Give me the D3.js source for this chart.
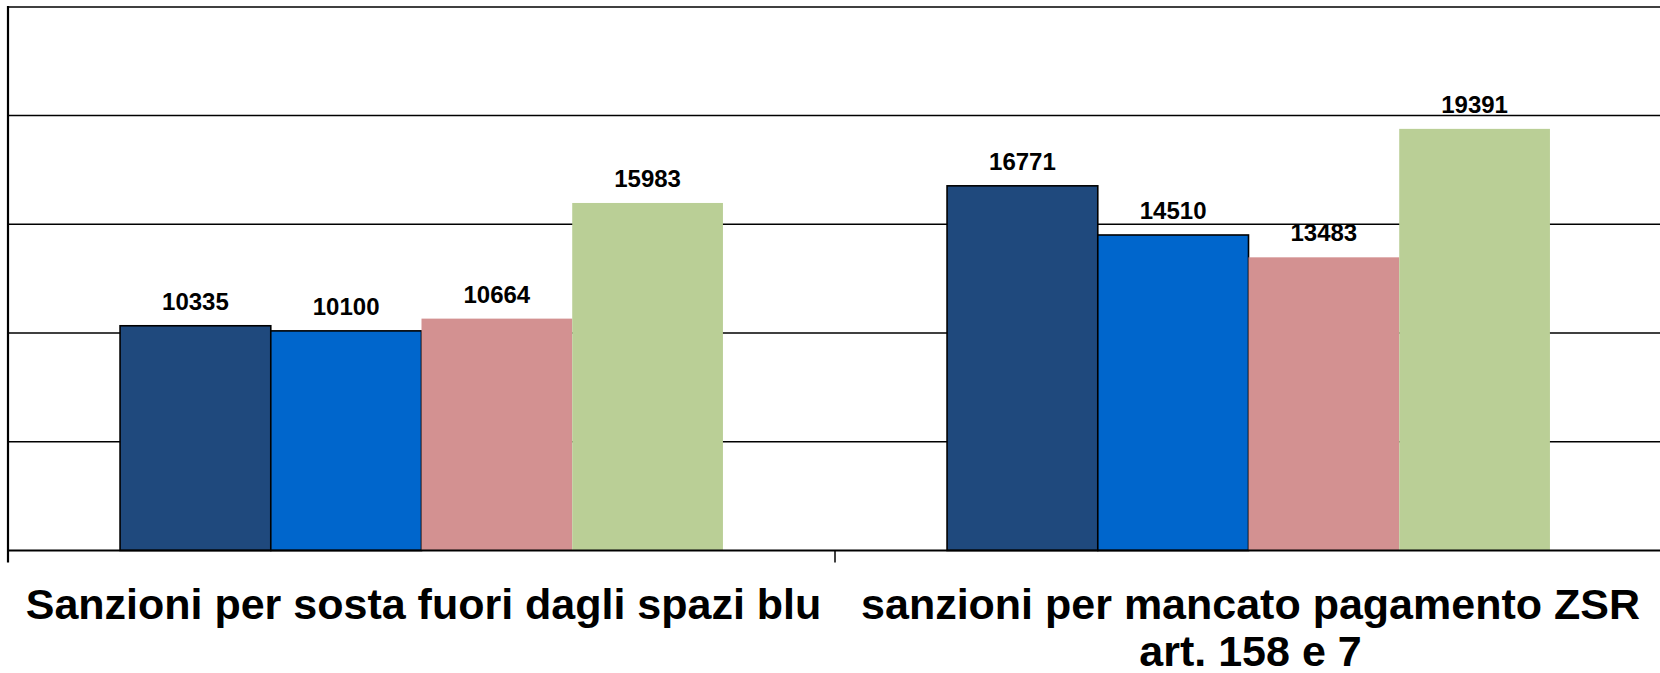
<!DOCTYPE html>
<html>
<head>
<meta charset="utf-8">
<script src="https://cdn.jsdelivr.net/npm/d3@7"></script>
<style>
  html, body { margin: 0; padding: 0; background: #fff; }
  svg { display: block; }
  text { font-family: "Liberation Sans", Arial, sans-serif; font-weight: bold; fill: #000; }
</style>
</head>
<body>
<svg id="chart" width="1660" height="673"></svg>
<script>
// ---- data ----
const categories = ["Sanzioni per sosta fuori dagli spazi blu", "sanzioni per mancato pagamento ZSR art. 158 e 7"];
const categoryLines = [["Sanzioni per sosta fuori dagli spazi blu"], ["sanzioni per mancato pagamento ZSR", "art. 158 e 7"]];
const seriesNames = ["Serie 1", "Serie 2", "Serie 3", "Serie 4"];
const serie1 = [10335, 16771];
const serie2 = [10100, 14510];
const serie3 = [10664, 13483];
const serie4 = [15983, 19391];
const yTicks = [0, 5000, 10000, 15000, 20000, 25000];
const seriesColors = ["#1F497D", "#0066CC", "#D39191", "#BACF96"];
const seriesStroke = ["#000", "#000", "none", "none"];

const allSeries = [serie1, serie2, serie3, serie4];

(function () {
  // ---- layout ----
  const pLeft = 8, pRight = 1662, pTop = 6.9, pBottom = 550.5;
  const svg = d3.select("#chart");

  const x0 = d3.scaleBand().domain(categories).range([pLeft, pRight]).paddingInner(0).paddingOuter(0);
  const groupFrac = 0.729;
  const x1 = d3.scaleBand().domain(seriesNames).range([0, x0.bandwidth() * groupFrac]).padding(0);
  const y = d3.scaleLinear().domain([0, 25000]).range([pBottom, pTop]);

  // gridlines
  svg.append("g").selectAll("line")
    .data(yTicks.filter(d => d > 0))
    .join("line")
    .attr("x1", pLeft).attr("x2", 1660)
    .attr("y1", d => y(d)).attr("y2", d => y(d))
    .attr("stroke", "#000").attr("stroke-width", 1.5);

  // bars
  const groups = svg.append("g").selectAll("g")
    .data(categories)
    .join("g")
    .attr("transform", (c) => `translate(${x0(c) + (x0.bandwidth() * (1 - groupFrac)) / 2},0)`);

  groups.each(function (c, ci) {
    const g = d3.select(this);
    seriesNames.forEach((s, si) => {
      const v = allSeries[si][ci];
      g.append("rect")
        .attr("x", x1(s))
        .attr("y", y(v))
        .attr("width", x1.bandwidth())
        .attr("height", y(0) - y(v))
        .attr("fill", seriesColors[si])
        .attr("stroke", seriesStroke[si])
        .attr("stroke-width", seriesStroke[si] === "none" ? 0 : 1.6);
    });
  });

  // value labels
  groups.each(function (c, ci) {
    const g = d3.select(this);
    seriesNames.forEach((s, si) => {
      const v = allSeries[si][ci];
      g.append("text")
        .attr("x", x1(s) + x1.bandwidth() / 2)
        .attr("y", y(v) - 16)
        .attr("text-anchor", "middle")
        .attr("font-size", 24)
        .text(v);
    });
  });

  // baseline (category axis)
  svg.append("line")
    .attr("x1", pLeft).attr("x2", 1660)
    .attr("y1", y(0)).attr("y2", y(0))
    .attr("stroke", "#000").attr("stroke-width", 2.2);

  // category tick marks
  const tickXs = categories.map(c => x0(c)).concat([pRight]);
  svg.append("g").selectAll("line")
    .data(tickXs.slice(1))
    .join("line")
    .attr("x1", d => d).attr("x2", d => d)
    .attr("y1", y(0)).attr("y2", y(0) + 12)
    .attr("stroke", "#000").attr("stroke-width", 1.5);

  // value axis line
  svg.append("line")
    .attr("x1", pLeft).attr("x2", pLeft)
    .attr("y1", y(25000) - 1).attr("y2", y(0) + 12)
    .attr("stroke", "#000").attr("stroke-width", 2.2);

  // category labels
  const labels = svg.append("g").selectAll("text")
    .data(categories)
    .join("text")
    .attr("text-anchor", "middle")
    .attr("font-size", 43)
    .attr("transform", c => `translate(${x0(c) + x0.bandwidth() / 2 + 2},619)`);

  labels.each(function (c, ci) {
    d3.select(this).selectAll("tspan")
      .data(categoryLines[ci])
      .join("tspan")
      .attr("x", 0)
      .attr("dy", (d, i) => i === 0 ? 0 : 47)
      .text(d => d);
  });
})();
</script>
</body>
</html>
